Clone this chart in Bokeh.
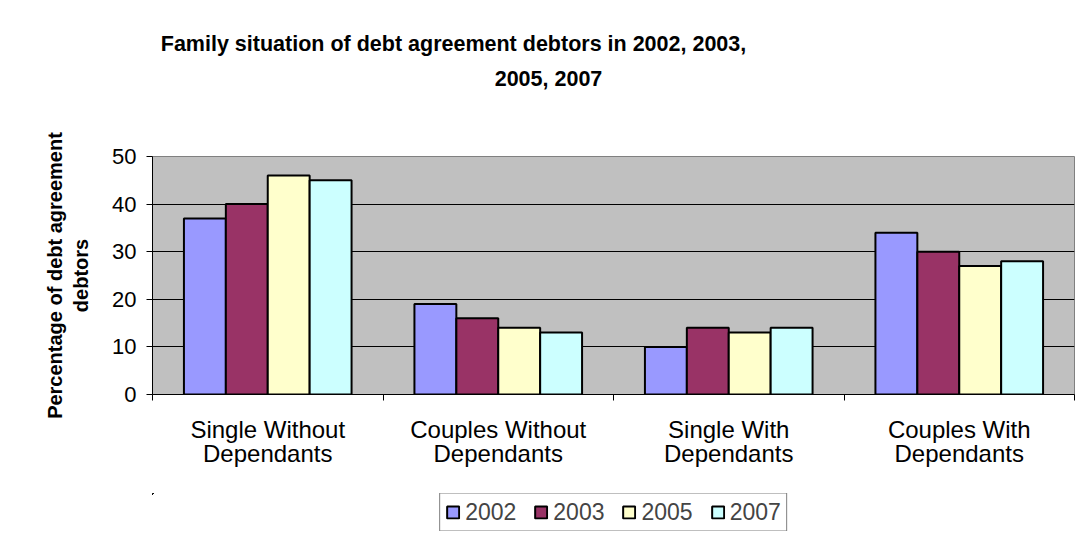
from bokeh.plotting import figure
from bokeh.layouts import column
from bokeh.models import (Range1d, FixedTicker, Legend, LegendItem, Label,
                          ColumnDataSource)
from bokeh.embed import file_html
from bokeh.resources import INLINE

# ---------------- data ----------------
categories = ["Single Without\nDependants", "Couples Without\nDependants",
              "Single With\nDependants", "Couples With\nDependants"]
years = ["2002", "2003", "2005", "2007"]
v2002 = [37, 19, 10, 34]
v2003 = [40, 16, 14, 30]
v2005 = [46, 14, 13, 27]
v2007 = [45, 13, 14, 28]
series = [v2002, v2003, v2005, v2007]
colors = ["#9999FF", "#993366", "#FFFFCC", "#CCFFFF"]
y_ticks = [0, 10, 20, 30, 40, 50]
title_lines = ["Family situation of debt agreement debtors in 2002, 2003,", "2005, 2007"]
ylabel = "Percentage of debt agreement\ndebtors"

FONT = "Liberation Sans"
TOTAL_W = 1077
TOP_H = 100                          # title strip
FL, FR, FT, FB = 152, 3, 56, 99      # main figure borders
FW, FH = 922, 238                    # plot area
BOT_H = 38                           # legend strip

# ---------------- title strip ----------------
pt = figure(width=TOTAL_W, height=TOP_H, output_backend="svg",
            toolbar_location=None, title=None, x_axis_type=None,
            y_axis_type=None, min_border=0)
pt.outline_line_color = None
pt.background_fill_color = "white"
pt.border_fill_color = "white"
# label x is measured from the (column-aligned) frame left edge
pt.add_layout(Label(x=453 - FL, y=TOP_H - 43, x_units="screen", y_units="screen",
                    text=title_lines[0], text_font=FONT, text_font_size="21.5px",
                    text_font_style="bold", text_color="black",
                    text_align="center", text_baseline="middle"))
pt.add_layout(Label(x=548 - FL, y=TOP_H - 78, x_units="screen", y_units="screen",
                    text=title_lines[1], text_font=FONT, text_font_size="21.5px",
                    text_font_style="bold", text_color="black",
                    text_align="center", text_baseline="middle"))

# ---------------- main chart ----------------
p = figure(frame_width=FW, frame_height=FH, output_backend="svg",
           toolbar_location=None, title=None,
           x_range=Range1d(0, len(categories)), y_range=Range1d(0, 50),
           min_border_left=FL, min_border_right=FR, min_border_top=FT,
           min_border_bottom=FB)
p.background_fill_color = "#C0C0C0"
p.border_fill_color = "white"
p.outline_line_color = "#808080"
p.outline_line_width = 1

bw = 1 / 5.5
sources = []
for k, (yr, vals, col) in enumerate(zip(years, series, colors)):
    xs = [i + 0.5 + (k - 1.5) * bw for i in range(len(categories))]
    src = ColumnDataSource(dict(x=xs, top=vals))
    sources.append(src)
    p.vbar(x="x", top="top", width=bw, bottom=0, source=src,
           fill_color=col, line_color="black", line_width=2)

# y axis
p.yaxis.ticker = FixedTicker(ticks=y_ticks)
p.yaxis.axis_line_color = "black"
p.yaxis.major_tick_out = 6
p.yaxis.major_tick_in = 0
p.yaxis.minor_tick_line_color = None
p.yaxis.major_label_text_font = FONT
p.yaxis.major_label_text_font_size = "22px"
p.yaxis.major_label_text_color = "black"
p.yaxis.major_label_standoff = 10
p.yaxis.axis_label = ylabel
p.yaxis.axis_label_text_font = FONT
p.yaxis.axis_label_text_font_size = "20px"
p.yaxis.axis_label_text_font_style = "bold"
p.yaxis.axis_label_text_color = "black"
p.yaxis.axis_label_text_line_height = 1.2
p.yaxis.axis_label_standoff = 17

# x axis
centers = [i + 0.5 for i in range(len(categories))]
p.xaxis.ticker = FixedTicker(ticks=centers, minor_ticks=list(range(len(categories) + 1)))
p.xaxis.major_label_overrides = {c: lab for c, lab in zip(centers, categories)}
p.xaxis.major_tick_line_color = None
p.xaxis.major_tick_out = 0
p.xaxis.major_tick_in = 0
p.xaxis.minor_tick_out = 6
p.xaxis.minor_tick_in = 0
p.xaxis.minor_tick_line_color = "black"
p.xaxis.axis_line_color = "black"
p.xaxis.major_label_text_font = FONT
p.xaxis.major_label_text_font_size = "24px"
p.xaxis.major_label_text_line_height = 0.9
p.xaxis.major_label_text_color = "black"
p.xaxis.major_label_standoff = 15

p.xgrid.grid_line_color = None
p.ygrid.grid_line_color = "black"
p.ygrid.grid_line_width = 1

# ---------------- legend strip ----------------
# same series on a strip whose ranges lie far away from the data: only the legend shows
pb = figure(width=TOTAL_W, height=BOT_H, output_backend="svg",
            toolbar_location=None, title=None, x_axis_type=None,
            y_axis_type=None, min_border=0,
            x_range=Range1d(1000, 1001), y_range=Range1d(-1000, -999))
pb.outline_line_color = None
pb.grid.visible = False
pb.background_fill_color = "white"
pb.border_fill_color = "white"
legend_renderers = []
for src, col in zip(sources, colors):
    r = pb.vbar(x="x", top="top", width=bw, bottom=0, source=src,
                fill_color=col, line_color="black", line_width=2)
    legend_renderers.append(r)
items = [LegendItem(label=yr, renderers=[r]) for yr, r in zip(years, legend_renderers)]
legend = Legend(items=items, orientation="horizontal", location="center",
                border_line_color="black", border_line_width=1,
                background_fill_color="white", background_fill_alpha=1,
                label_text_font=FONT, label_text_font_size="23px",
                glyph_width=15, glyph_height=15, label_standoff=5,
                spacing=17, padding=5, margin=0, label_height=23)
pb.add_layout(legend, "center")

layout = column(pt, p, pb, spacing=0)
open("out.html", "w").write(file_html(layout, INLINE))
